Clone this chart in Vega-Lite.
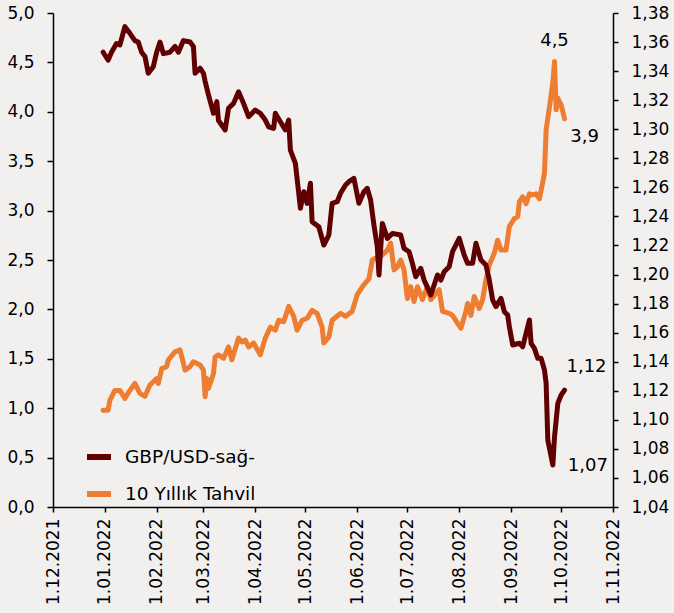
{
  "$schema": "https://vega.github.io/schema/vega-lite/v6.json",
  "width": 560,
  "height": 494,
  "autosize": {"type": "none"},
  "padding": {"left": 53, "top": 13, "right": 61, "bottom": 106},
  "background": "#f2f0ef",
  "config": {
    "view": {"stroke": null},
    "locale": {"number": {"decimal": ",", "thousands": ".", "grouping": [3], "currency": ["", " ₺"]}},
    "font": "DejaVu Sans",
    "axis": {"labelFont": "DejaVu Sans", "labelFontSize": 17, "labelColor": "#000", "domainColor": "#000", "tickColor": "#000", "domainWidth": 1.5, "tickWidth": 1.5, "grid": false, "title": null},
    "legend": {"orient": "none", "legendX": 31, "legendY": 429, "symbolType": "stroke", "symbolStrokeWidth": 6, "symbolSize": 576, "labelFontSize": 18.5, "labelFont": "DejaVu Sans", "labelColor": "#000", "labelOffset": 11, "rowPadding": 10, "padding": 0, "labelLimit": 300}
  },
  "datasets": {
    "series": [
      {"series": "10 Yıllık Tahvil", "date": "2021-12-31", "value": 0.98},
      {"series": "10 Yıllık Tahvil", "date": "2022-01-03", "value": 0.98},
      {"series": "10 Yıllık Tahvil", "date": "2022-01-04", "value": 1.08},
      {"series": "10 Yıllık Tahvil", "date": "2022-01-07", "value": 1.18},
      {"series": "10 Yıllık Tahvil", "date": "2022-01-10", "value": 1.18},
      {"series": "10 Yıllık Tahvil", "date": "2022-01-13", "value": 1.10},
      {"series": "10 Yıllık Tahvil", "date": "2022-01-16", "value": 1.18},
      {"series": "10 Yıllık Tahvil", "date": "2022-01-19", "value": 1.25},
      {"series": "10 Yıllık Tahvil", "date": "2022-01-22", "value": 1.15},
      {"series": "10 Yıllık Tahvil", "date": "2022-01-25", "value": 1.12},
      {"series": "10 Yıllık Tahvil", "date": "2022-01-28", "value": 1.235},
      {"series": "10 Yıllık Tahvil", "date": "2022-02-01", "value": 1.30},
      {"series": "10 Yıllık Tahvil", "date": "2022-02-02", "value": 1.25},
      {"series": "10 Yıllık Tahvil", "date": "2022-02-04", "value": 1.40},
      {"series": "10 Yıllık Tahvil", "date": "2022-02-07", "value": 1.42},
      {"series": "10 Yıllık Tahvil", "date": "2022-02-08", "value": 1.49},
      {"series": "10 Yıllık Tahvil", "date": "2022-02-12", "value": 1.57},
      {"series": "10 Yıllık Tahvil", "date": "2022-02-15", "value": 1.59},
      {"series": "10 Yıllık Tahvil", "date": "2022-02-18", "value": 1.386},
      {"series": "10 Yıllık Tahvil", "date": "2022-02-21", "value": 1.42},
      {"series": "10 Yıllık Tahvil", "date": "2022-02-23", "value": 1.47},
      {"series": "10 Yıllık Tahvil", "date": "2022-02-27", "value": 1.437},
      {"series": "10 Yıllık Tahvil", "date": "2022-03-01", "value": 1.386},
      {"series": "10 Yıllık Tahvil", "date": "2022-03-02", "value": 1.117},
      {"series": "10 Yıllık Tahvil", "date": "2022-03-03", "value": 1.30},
      {"series": "10 Yıllık Tahvil", "date": "2022-03-04", "value": 1.20},
      {"series": "10 Yıllık Tahvil", "date": "2022-03-07", "value": 1.35},
      {"series": "10 Yıllık Tahvil", "date": "2022-03-08", "value": 1.52},
      {"series": "10 Yıllık Tahvil", "date": "2022-03-10", "value": 1.54},
      {"series": "10 Yıllık Tahvil", "date": "2022-03-13", "value": 1.505},
      {"series": "10 Yıllık Tahvil", "date": "2022-03-16", "value": 1.62},
      {"series": "10 Yıllık Tahvil", "date": "2022-03-18", "value": 1.49},
      {"series": "10 Yıllık Tahvil", "date": "2022-03-22", "value": 1.71},
      {"series": "10 Yıllık Tahvil", "date": "2022-03-24", "value": 1.67},
      {"series": "10 Yıllık Tahvil", "date": "2022-03-26", "value": 1.69},
      {"series": "10 Yıllık Tahvil", "date": "2022-03-28", "value": 1.62},
      {"series": "10 Yıllık Tahvil", "date": "2022-03-31", "value": 1.66},
      {"series": "10 Yıllık Tahvil", "date": "2022-04-04", "value": 1.54},
      {"series": "10 Yıllık Tahvil", "date": "2022-04-07", "value": 1.71},
      {"series": "10 Yıllık Tahvil", "date": "2022-04-10", "value": 1.82},
      {"series": "10 Yıllık Tahvil", "date": "2022-04-13", "value": 1.79},
      {"series": "10 Yıllık Tahvil", "date": "2022-04-15", "value": 1.89},
      {"series": "10 Yıllık Tahvil", "date": "2022-04-18", "value": 1.875},
      {"series": "10 Yıllık Tahvil", "date": "2022-04-21", "value": 2.03},
      {"series": "10 Yıllık Tahvil", "date": "2022-04-24", "value": 1.93},
      {"series": "10 Yıllık Tahvil", "date": "2022-04-26", "value": 1.79},
      {"series": "10 Yıllık Tahvil", "date": "2022-04-29", "value": 1.89},
      {"series": "10 Yıllık Tahvil", "date": "2022-05-02", "value": 1.91},
      {"series": "10 Yıllık Tahvil", "date": "2022-05-05", "value": 1.99},
      {"series": "10 Yıllık Tahvil", "date": "2022-05-08", "value": 1.96},
      {"series": "10 Yıllık Tahvil", "date": "2022-05-11", "value": 1.82},
      {"series": "10 Yıllık Tahvil", "date": "2022-05-12", "value": 1.66},
      {"series": "10 Yıllık Tahvil", "date": "2022-05-15", "value": 1.72},
      {"series": "10 Yıllık Tahvil", "date": "2022-05-17", "value": 1.89},
      {"series": "10 Yıllık Tahvil", "date": "2022-05-22", "value": 1.96},
      {"series": "10 Yıllık Tahvil", "date": "2022-05-25", "value": 1.93},
      {"series": "10 Yıllık Tahvil", "date": "2022-05-29", "value": 1.98},
      {"series": "10 Yıllık Tahvil", "date": "2022-06-01", "value": 2.15},
      {"series": "10 Yıllık Tahvil", "date": "2022-06-05", "value": 2.25},
      {"series": "10 Yıllık Tahvil", "date": "2022-06-08", "value": 2.31},
      {"series": "10 Yıllık Tahvil", "date": "2022-06-10", "value": 2.50},
      {"series": "10 Yıllık Tahvil", "date": "2022-06-13", "value": 2.53},
      {"series": "10 Yıllık Tahvil", "date": "2022-06-16", "value": 2.55},
      {"series": "10 Yıllık Tahvil", "date": "2022-06-19", "value": 2.60},
      {"series": "10 Yıllık Tahvil", "date": "2022-06-21", "value": 2.67},
      {"series": "10 Yıllık Tahvil", "date": "2022-06-23", "value": 2.40},
      {"series": "10 Yıllık Tahvil", "date": "2022-06-25", "value": 2.43},
      {"series": "10 Yıllık Tahvil", "date": "2022-06-27", "value": 2.50},
      {"series": "10 Yıllık Tahvil", "date": "2022-06-29", "value": 2.40},
      {"series": "10 Yıllık Tahvil", "date": "2022-07-01", "value": 2.11},
      {"series": "10 Yıllık Tahvil", "date": "2022-07-03", "value": 2.23},
      {"series": "10 Yıllık Tahvil", "date": "2022-07-05", "value": 2.08},
      {"series": "10 Yıllık Tahvil", "date": "2022-07-07", "value": 2.23},
      {"series": "10 Yıllık Tahvil", "date": "2022-07-10", "value": 2.10},
      {"series": "10 Yıllık Tahvil", "date": "2022-07-13", "value": 2.23},
      {"series": "10 Yıllık Tahvil", "date": "2022-07-15", "value": 2.10},
      {"series": "10 Yıllık Tahvil", "date": "2022-07-19", "value": 2.18},
      {"series": "10 Yıllık Tahvil", "date": "2022-07-20", "value": 2.20},
      {"series": "10 Yıllık Tahvil", "date": "2022-07-22", "value": 1.98},
      {"series": "10 Yıllık Tahvil", "date": "2022-07-26", "value": 1.96},
      {"series": "10 Yıllık Tahvil", "date": "2022-07-28", "value": 1.94},
      {"series": "10 Yıllık Tahvil", "date": "2022-07-31", "value": 1.86},
      {"series": "10 Yıllık Tahvil", "date": "2022-08-02", "value": 1.81},
      {"series": "10 Yıllık Tahvil", "date": "2022-08-05", "value": 1.98},
      {"series": "10 Yıllık Tahvil", "date": "2022-08-06", "value": 2.06},
      {"series": "10 Yıllık Tahvil", "date": "2022-08-08", "value": 1.94},
      {"series": "10 Yıllık Tahvil", "date": "2022-08-10", "value": 2.13},
      {"series": "10 Yıllık Tahvil", "date": "2022-08-13", "value": 2.01},
      {"series": "10 Yıllık Tahvil", "date": "2022-08-15", "value": 2.10},
      {"series": "10 Yıllık Tahvil", "date": "2022-08-17", "value": 2.30},
      {"series": "10 Yıllık Tahvil", "date": "2022-08-19", "value": 2.45},
      {"series": "10 Yıllık Tahvil", "date": "2022-08-22", "value": 2.57},
      {"series": "10 Yıllık Tahvil", "date": "2022-08-24", "value": 2.70},
      {"series": "10 Yıllık Tahvil", "date": "2022-08-26", "value": 2.60},
      {"series": "10 Yıllık Tahvil", "date": "2022-08-29", "value": 2.60},
      {"series": "10 Yıllık Tahvil", "date": "2022-08-31", "value": 2.84},
      {"series": "10 Yıllık Tahvil", "date": "2022-09-03", "value": 2.92},
      {"series": "10 Yıllık Tahvil", "date": "2022-09-05", "value": 2.94},
      {"series": "10 Yıllık Tahvil", "date": "2022-09-06", "value": 3.09},
      {"series": "10 Yıllık Tahvil", "date": "2022-09-08", "value": 3.14},
      {"series": "10 Yıllık Tahvil", "date": "2022-09-10", "value": 3.07},
      {"series": "10 Yıllık Tahvil", "date": "2022-09-12", "value": 3.17},
      {"series": "10 Yıllık Tahvil", "date": "2022-09-14", "value": 3.16},
      {"series": "10 Yıllık Tahvil", "date": "2022-09-16", "value": 3.17},
      {"series": "10 Yıllık Tahvil", "date": "2022-09-18", "value": 3.12},
      {"series": "10 Yıllık Tahvil", "date": "2022-09-20", "value": 3.29},
      {"series": "10 Yıllık Tahvil", "date": "2022-09-21", "value": 3.38},
      {"series": "10 Yıllık Tahvil", "date": "2022-09-22", "value": 3.82},
      {"series": "10 Yıllık Tahvil", "date": "2022-09-24", "value": 4.05},
      {"series": "10 Yıllık Tahvil", "date": "2022-09-26", "value": 4.29},
      {"series": "10 Yıllık Tahvil", "date": "2022-09-27", "value": 4.51},
      {"series": "10 Yıllık Tahvil", "date": "2022-09-28", "value": 4.02},
      {"series": "10 Yıllık Tahvil", "date": "2022-09-29", "value": 4.14},
      {"series": "10 Yıllık Tahvil", "date": "2022-09-30", "value": 4.10},
      {"series": "10 Yıllık Tahvil", "date": "2022-10-01", "value": 4.07},
      {"series": "10 Yıllık Tahvil", "date": "2022-10-03", "value": 3.93},
      {"series": "GBP/USD-sağ-", "date": "2021-12-31", "value": 1.353},
      {"series": "GBP/USD-sağ-", "date": "2022-01-03", "value": 1.3476},
      {"series": "GBP/USD-sağ-", "date": "2022-01-05", "value": 1.353},
      {"series": "GBP/USD-sağ-", "date": "2022-01-08", "value": 1.359},
      {"series": "GBP/USD-sağ-", "date": "2022-01-10", "value": 1.358},
      {"series": "GBP/USD-sağ-", "date": "2022-01-13", "value": 1.3706},
      {"series": "GBP/USD-sağ-", "date": "2022-01-16", "value": 1.366},
      {"series": "GBP/USD-sağ-", "date": "2022-01-19", "value": 1.361},
      {"series": "GBP/USD-sağ-", "date": "2022-01-21", "value": 1.360},
      {"series": "GBP/USD-sağ-", "date": "2022-01-23", "value": 1.353},
      {"series": "GBP/USD-sağ-", "date": "2022-01-25", "value": 1.350},
      {"series": "GBP/USD-sağ-", "date": "2022-01-27", "value": 1.3385},
      {"series": "GBP/USD-sağ-", "date": "2022-01-30", "value": 1.343},
      {"series": "GBP/USD-sağ-", "date": "2022-02-01", "value": 1.353},
      {"series": "GBP/USD-sağ-", "date": "2022-02-03", "value": 1.360},
      {"series": "GBP/USD-sağ-", "date": "2022-02-05", "value": 1.352},
      {"series": "GBP/USD-sağ-", "date": "2022-02-09", "value": 1.353},
      {"series": "GBP/USD-sağ-", "date": "2022-02-12", "value": 1.357},
      {"series": "GBP/USD-sağ-", "date": "2022-02-14", "value": 1.353},
      {"series": "GBP/USD-sağ-", "date": "2022-02-17", "value": 1.361},
      {"series": "GBP/USD-sağ-", "date": "2022-02-21", "value": 1.360},
      {"series": "GBP/USD-sağ-", "date": "2022-02-23", "value": 1.357},
      {"series": "GBP/USD-sağ-", "date": "2022-02-24", "value": 1.3385},
      {"series": "GBP/USD-sağ-", "date": "2022-02-27", "value": 1.342},
      {"series": "GBP/USD-sağ-", "date": "2022-03-01", "value": 1.3385},
      {"series": "GBP/USD-sağ-", "date": "2022-03-02", "value": 1.333},
      {"series": "GBP/USD-sağ-", "date": "2022-03-04", "value": 1.3236},
      {"series": "GBP/USD-sağ-", "date": "2022-03-07", "value": 1.311},
      {"series": "GBP/USD-sağ-", "date": "2022-03-09", "value": 1.319},
      {"series": "GBP/USD-sağ-", "date": "2022-03-10", "value": 1.306},
      {"series": "GBP/USD-sağ-", "date": "2022-03-14", "value": 1.2995},
      {"series": "GBP/USD-sağ-", "date": "2022-03-16", "value": 1.3144},
      {"series": "GBP/USD-sağ-", "date": "2022-03-19", "value": 1.3178},
      {"series": "GBP/USD-sağ-", "date": "2022-03-22", "value": 1.3258},
      {"series": "GBP/USD-sağ-", "date": "2022-03-25", "value": 1.3178},
      {"series": "GBP/USD-sağ-", "date": "2022-03-28", "value": 1.3086},
      {"series": "GBP/USD-sağ-", "date": "2022-04-01", "value": 1.3132},
      {"series": "GBP/USD-sağ-", "date": "2022-04-04", "value": 1.311},
      {"series": "GBP/USD-sağ-", "date": "2022-04-07", "value": 1.3063},
      {"series": "GBP/USD-sağ-", "date": "2022-04-09", "value": 1.3017},
      {"series": "GBP/USD-sağ-", "date": "2022-04-12", "value": 1.3006},
      {"series": "GBP/USD-sağ-", "date": "2022-04-13", "value": 1.311},
      {"series": "GBP/USD-sağ-", "date": "2022-04-16", "value": 1.3052},
      {"series": "GBP/USD-sağ-", "date": "2022-04-19", "value": 1.2995},
      {"series": "GBP/USD-sağ-", "date": "2022-04-21", "value": 1.3063},
      {"series": "GBP/USD-sağ-", "date": "2022-04-22", "value": 1.2857},
      {"series": "GBP/USD-sağ-", "date": "2022-04-25", "value": 1.2765},
      {"series": "GBP/USD-sağ-", "date": "2022-04-27", "value": 1.2559},
      {"series": "GBP/USD-sağ-", "date": "2022-04-28", "value": 1.2456},
      {"series": "GBP/USD-sağ-", "date": "2022-04-30", "value": 1.257},
      {"series": "GBP/USD-sağ-", "date": "2022-05-02", "value": 1.249},
      {"series": "GBP/USD-sağ-", "date": "2022-05-04", "value": 1.2628},
      {"series": "GBP/USD-sağ-", "date": "2022-05-05", "value": 1.2364},
      {"series": "GBP/USD-sağ-", "date": "2022-05-09", "value": 1.2329},
      {"series": "GBP/USD-sağ-", "date": "2022-05-12", "value": 1.2203},
      {"series": "GBP/USD-sağ-", "date": "2022-05-15", "value": 1.2272},
      {"series": "GBP/USD-sağ-", "date": "2022-05-17", "value": 1.249},
      {"series": "GBP/USD-sağ-", "date": "2022-05-20", "value": 1.2501},
      {"series": "GBP/USD-sağ-", "date": "2022-05-22", "value": 1.2559},
      {"series": "GBP/USD-sağ-", "date": "2022-05-25", "value": 1.2616},
      {"series": "GBP/USD-sağ-", "date": "2022-05-27", "value": 1.2639},
      {"series": "GBP/USD-sağ-", "date": "2022-05-30", "value": 1.2662},
      {"series": "GBP/USD-sağ-", "date": "2022-06-02", "value": 1.249},
      {"series": "GBP/USD-sağ-", "date": "2022-06-05", "value": 1.257},
      {"series": "GBP/USD-sağ-", "date": "2022-06-07", "value": 1.2593},
      {"series": "GBP/USD-sağ-", "date": "2022-06-09", "value": 1.2513},
      {"series": "GBP/USD-sağ-", "date": "2022-06-11", "value": 1.234},
      {"series": "GBP/USD-sağ-", "date": "2022-06-13", "value": 1.2192},
      {"series": "GBP/USD-sağ-", "date": "2022-06-14", "value": 1.1997},
      {"series": "GBP/USD-sağ-", "date": "2022-06-16", "value": 1.2352},
      {"series": "GBP/USD-sağ-", "date": "2022-06-19", "value": 1.2249},
      {"series": "GBP/USD-sağ-", "date": "2022-06-22", "value": 1.2283},
      {"series": "GBP/USD-sağ-", "date": "2022-06-27", "value": 1.2272},
      {"series": "GBP/USD-sağ-", "date": "2022-06-29", "value": 1.218},
      {"series": "GBP/USD-sağ-", "date": "2022-07-02", "value": 1.2157},
      {"series": "GBP/USD-sağ-", "date": "2022-07-04", "value": 1.2077},
      {"series": "GBP/USD-sağ-", "date": "2022-07-06", "value": 1.1985},
      {"series": "GBP/USD-sağ-", "date": "2022-07-09", "value": 1.2043},
      {"series": "GBP/USD-sağ-", "date": "2022-07-11", "value": 1.1962},
      {"series": "GBP/USD-sağ-", "date": "2022-07-15", "value": 1.1859},
      {"series": "GBP/USD-sağ-", "date": "2022-07-19", "value": 1.1997},
      {"series": "GBP/USD-sağ-", "date": "2022-07-21", "value": 1.1962},
      {"series": "GBP/USD-sağ-", "date": "2022-07-23", "value": 1.2019},
      {"series": "GBP/USD-sağ-", "date": "2022-07-26", "value": 1.2054},
      {"series": "GBP/USD-sağ-", "date": "2022-07-28", "value": 1.2157},
      {"series": "GBP/USD-sağ-", "date": "2022-08-01", "value": 1.2249},
      {"series": "GBP/USD-sağ-", "date": "2022-08-04", "value": 1.2134},
      {"series": "GBP/USD-sağ-", "date": "2022-08-06", "value": 1.2077},
      {"series": "GBP/USD-sağ-", "date": "2022-08-09", "value": 1.2077},
      {"series": "GBP/USD-sağ-", "date": "2022-08-11", "value": 1.2215},
      {"series": "GBP/USD-sağ-", "date": "2022-08-14", "value": 1.21},
      {"series": "GBP/USD-sağ-", "date": "2022-08-17", "value": 1.2066},
      {"series": "GBP/USD-sağ-", "date": "2022-08-19", "value": 1.1962},
      {"series": "GBP/USD-sağ-", "date": "2022-08-21", "value": 1.1825},
      {"series": "GBP/USD-sağ-", "date": "2022-08-23", "value": 1.1779},
      {"series": "GBP/USD-sağ-", "date": "2022-08-26", "value": 1.1836},
      {"series": "GBP/USD-sağ-", "date": "2022-08-28", "value": 1.1744},
      {"series": "GBP/USD-sağ-", "date": "2022-08-30", "value": 1.1721},
      {"series": "GBP/USD-sağ-", "date": "2022-08-31", "value": 1.1641},
      {"series": "GBP/USD-sağ-", "date": "2022-09-02", "value": 1.1515},
      {"series": "GBP/USD-sağ-", "date": "2022-09-06", "value": 1.1527},
      {"series": "GBP/USD-sağ-", "date": "2022-09-08", "value": 1.1503},
      {"series": "GBP/USD-sağ-", "date": "2022-09-12", "value": 1.1687},
      {"series": "GBP/USD-sağ-", "date": "2022-09-13", "value": 1.1527},
      {"series": "GBP/USD-sağ-", "date": "2022-09-15", "value": 1.1492},
      {"series": "GBP/USD-sağ-", "date": "2022-09-17", "value": 1.1423},
      {"series": "GBP/USD-sağ-", "date": "2022-09-19", "value": 1.1423},
      {"series": "GBP/USD-sağ-", "date": "2022-09-21", "value": 1.1343},
      {"series": "GBP/USD-sağ-", "date": "2022-09-22", "value": 1.1251},
      {"series": "GBP/USD-sağ-", "date": "2022-09-23", "value": 1.0861},
      {"series": "GBP/USD-sağ-", "date": "2022-09-26", "value": 1.0689},
      {"series": "GBP/USD-sağ-", "date": "2022-09-27", "value": 1.088},
      {"series": "GBP/USD-sağ-", "date": "2022-09-29", "value": 1.1114},
      {"series": "GBP/USD-sağ-", "date": "2022-10-01", "value": 1.1171},
      {"series": "GBP/USD-sağ-", "date": "2022-10-03", "value": 1.1205}
    ],
    "labels": [
      {"series": "10 Yıllık Tahvil", "date": "2022-09-27", "value": 4.51, "label": "4,5"},
      {"series": "10 Yıllık Tahvil", "date": "2022-10-03", "value": 3.93, "label": "3,9"},
      {"series": "GBP/USD-sağ-", "date": "2022-10-03", "value": 1.1205, "label": "1,12"},
      {"series": "GBP/USD-sağ-", "date": "2022-09-26", "value": 1.0689, "label": "1,07"}
    ]
  },
  "layer": [
    {
      "encoding": {
        "x": {"field": "date", "type": "temporal",
          "scale": {"type": "utc", "domain": [{"year": 2021, "month": 12, "date": 1, "utc": true}, {"year": 2022, "month": 11, "date": 1, "utc": true}]},
          "axis": {"format": "%-d.%m.%Y", "labelAngle": 270, "tickSize": 5, "labelPadding": 6,
            "values": [
              {"year": 2021, "month": 12, "date": 1, "utc": true},
              {"year": 2022, "month": 1, "date": 1, "utc": true},
              {"year": 2022, "month": 2, "date": 1, "utc": true},
              {"year": 2022, "month": 3, "date": 1, "utc": true},
              {"year": 2022, "month": 4, "date": 1, "utc": true},
              {"year": 2022, "month": 5, "date": 1, "utc": true},
              {"year": 2022, "month": 6, "date": 1, "utc": true},
              {"year": 2022, "month": 7, "date": 1, "utc": true},
              {"year": 2022, "month": 8, "date": 1, "utc": true},
              {"year": 2022, "month": 9, "date": 1, "utc": true},
              {"year": 2022, "month": 10, "date": 1, "utc": true},
              {"year": 2022, "month": 11, "date": 1, "utc": true}
            ]}},
        "y": {"field": "value", "type": "quantitative",
          "scale": {"domain": [0, 5], "nice": false, "zero": false},
          "axis": {"orient": "left", "values": [0, 0.5, 1, 1.5, 2, 2.5, 3, 3.5, 4, 4.5, 5], "format": ".1f", "tickSize": 6, "labelPadding": 13}}
      },
      "layer": [
        {
          "data": {"name": "series"},
          "transform": [{"filter": "datum.series === '10 Yıllık Tahvil'"}],
          "mark": {"type": "line", "strokeWidth": 5, "strokeCap": "round", "strokeJoin": "round"},
          "encoding": {"color": {"field": "series", "type": "nominal",
            "scale": {"domain": ["GBP/USD-sağ-", "10 Yıllık Tahvil"], "range": ["#600000", "#ed7d31"]},
            "legend": {"title": null}}}
        },
        {
          "data": {"name": "labels"},
          "transform": [{"filter": "datum.label === '4,5'"}],
          "mark": {"type": "text", "dy": -20, "fontSize": 18, "font": "DejaVu Sans", "color": "#000", "align": "center", "baseline": "middle"},
          "encoding": {"text": {"field": "label"}}
        },
        {
          "data": {"name": "labels"},
          "transform": [{"filter": "datum.label === '3,9'"}],
          "mark": {"type": "text", "dx": 20, "dy": 18, "fontSize": 18, "font": "DejaVu Sans", "color": "#000", "align": "center", "baseline": "middle"},
          "encoding": {"text": {"field": "label"}}
        }
      ]
    },
    {
      "encoding": {
        "x": {"field": "date", "type": "temporal",
          "scale": {"type": "utc", "domain": [{"year": 2021, "month": 12, "date": 1, "utc": true}, {"year": 2022, "month": 11, "date": 1, "utc": true}]},
          "axis": {"format": "%-d.%m.%Y", "labelAngle": 270, "tickSize": 5, "labelPadding": 6,
            "values": [
              {"year": 2021, "month": 12, "date": 1, "utc": true},
              {"year": 2022, "month": 1, "date": 1, "utc": true},
              {"year": 2022, "month": 2, "date": 1, "utc": true},
              {"year": 2022, "month": 3, "date": 1, "utc": true},
              {"year": 2022, "month": 4, "date": 1, "utc": true},
              {"year": 2022, "month": 5, "date": 1, "utc": true},
              {"year": 2022, "month": 6, "date": 1, "utc": true},
              {"year": 2022, "month": 7, "date": 1, "utc": true},
              {"year": 2022, "month": 8, "date": 1, "utc": true},
              {"year": 2022, "month": 9, "date": 1, "utc": true},
              {"year": 2022, "month": 10, "date": 1, "utc": true},
              {"year": 2022, "month": 11, "date": 1, "utc": true}
            ]}},
        "y": {"field": "value", "type": "quantitative",
          "scale": {"domain": [1.04, 1.38], "nice": false, "zero": false},
          "axis": {"orient": "right", "values": [1.04, 1.06, 1.08, 1.1, 1.12, 1.14, 1.16, 1.18, 1.2, 1.22, 1.24, 1.26, 1.28, 1.3, 1.32, 1.34, 1.36, 1.38], "format": ".2f", "tickSize": 5, "labelPadding": 13}}
      },
      "layer": [
        {
          "data": {"name": "series"},
          "transform": [{"filter": "datum.series === 'GBP/USD-sağ-'"}],
          "mark": {"type": "line", "strokeWidth": 5, "strokeCap": "round", "strokeJoin": "round"},
          "encoding": {"color": {"field": "series", "type": "nominal",
            "scale": {"domain": ["GBP/USD-sağ-", "10 Yıllık Tahvil"], "range": ["#600000", "#ed7d31"]},
            "legend": {"title": null}}}
        },
        {
          "data": {"name": "labels"},
          "transform": [{"filter": "datum.label === '1,12'"}],
          "mark": {"type": "text", "dx": 22, "dy": -23, "fontSize": 18, "font": "DejaVu Sans", "color": "#000", "align": "center", "baseline": "middle"},
          "encoding": {"text": {"field": "label"}}
        },
        {
          "data": {"name": "labels"},
          "transform": [{"filter": "datum.label === '1,07'"}],
          "mark": {"type": "text", "dx": 35, "dy": 1, "fontSize": 18, "font": "DejaVu Sans", "color": "#000", "align": "center", "baseline": "middle"},
          "encoding": {"text": {"field": "label"}}
        }
      ]
    }
  ],
  "resolve": {"scale": {"y": "independent"}}
}
